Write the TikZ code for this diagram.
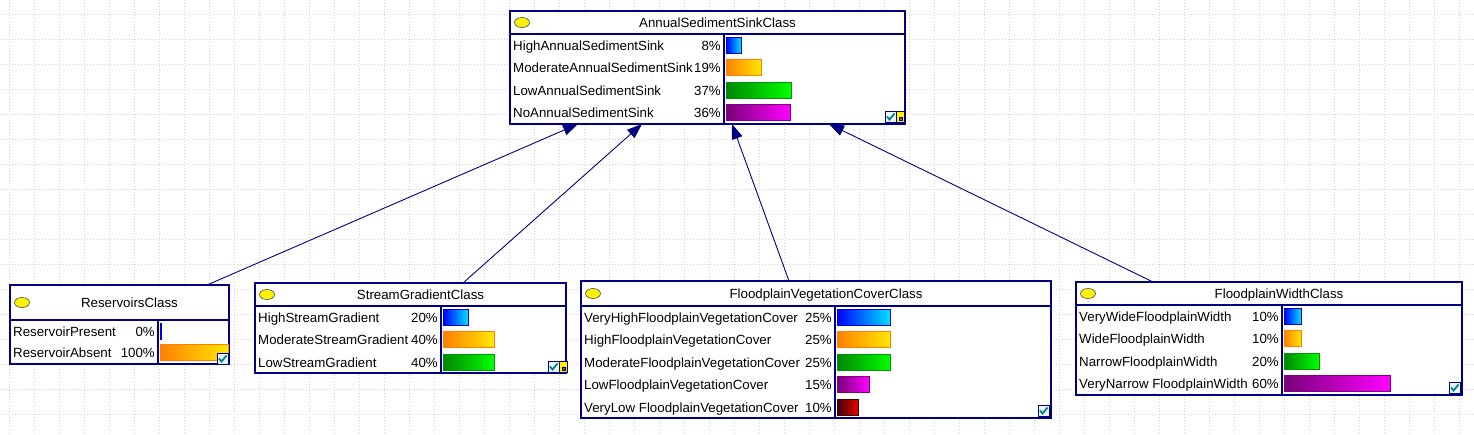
\documentclass[tikz,border=0pt]{standalone}
\usepackage{fontspec}
\setmainfont{Liberation Sans}
\usetikzlibrary{arrows.meta}

\definecolor{netnavy}{RGB}{0,0,128}
\definecolor{gridgray}{RGB}{212,212,212}
\definecolor{chkteal}{RGB}{0,128,128}

\tikzset{
  netbox/.style={rectangle, draw=netnavy, line width=1.2pt, fill=white, inner sep=0pt, outer sep=0pt},
  netline/.style={draw=netnavy, line width=1.1pt},
  netball/.style={fill=yellow, draw=black!70, line width=0.6pt},
  title/.style={anchor=base, inner sep=0pt, font=\fontsize{13.3}{15}\selectfont},
  state/.style={anchor=base west, inner sep=0pt, font=\fontsize{13.3}{15}\selectfont},
  pct/.style={anchor=base east, inner sep=0pt, font=\fontsize{13.3}{15}\selectfont},
  barblue/.style={left color={rgb,255:red,0;green,0;blue,255}, right color={rgb,255:red,0;green,225;blue,255}, draw={rgb,255:red,0;green,0;blue,210}, line width=0.8pt},
  barorange/.style={left color={rgb,255:red,255;green,128;blue,0}, right color={rgb,255:red,255;green,232;blue,0}, draw={rgb,255:red,255;green,128;blue,0}, line width=0.8pt},
  bargreen/.style={left color={rgb,255:red,0;green,135;blue,0}, right color={rgb,255:red,0;green,255;blue,0}, draw={rgb,255:red,0;green,150;blue,0}, line width=0.8pt},
  barpurple/.style={left color={rgb,255:red,120;green,0;blue,120}, right color={rgb,255:red,255;green,0;blue,255}, draw={rgb,255:red,128;green,0;blue,128}, line width=0.8pt},
  barred/.style={left color={rgb,255:red,60;green,0;blue,0}, right color={rgb,255:red,235;green,0;blue,0}, draw={rgb,255:red,70;green,0;blue,0}, line width=0.8pt},
  chkbox/.style={draw=netnavy, line width=1pt, fill={rgb,255:red,235;green,245;blue,255}},
  chkmark/.style={draw=chkteal, line width=1.8pt},
  link/.style={draw=netnavy, line width=0.9pt, -{Triangle[length=15pt,width=11pt]}},
  gridline/.style={draw=gridgray, line width=0.9pt, dash pattern=on 1pt off 2pt}
}

% box with title bar and column divider
% #1 name, #2 left, #3 top, #4 right, #5 bottom, #6 title rule, #7 divider, #8 title
\newcommand{\netnode}[8]{%
  \node[netbox, anchor=north west, minimum width={#4-#2}, minimum height={#5-#3}] (#1) at (#2,#3) {};
  \draw[netline] (#2,#6) -- (#4,#6);
  \draw[netline] (#7,#6) -- (#7,#5);
  \draw[netball] (#2+12,{(#3+#6)/2}) ellipse [x radius=7.5, y radius=5];
  \node[title] (#1-title) at ({(#2+20+#4)/2},{(#3+#6)/2+5}) {#8};
}

% state rows: #1 name, #2 left, #3 title rule, #4 divider, #5 row height, #6 list
\newcommand{\netrows}[6]{%
  \foreach \lab/\pc/\w/\bar [count=\i] in {#6} {
    \pgfmathsetmacro\yy{#3+11+(\i-1)*#5}
    \node[state] (#1-s\i) at (#2+3,\yy+5) {\lab};
    \node[pct] (#1-p\i) at (#4-3,\yy+5) {\pc\%};
    \draw[\bar] (#4+2,\yy-8) rectangle ++(\w,16);
  }
}

% check box, #1 x, #2 y (upper left)
\newcommand{\netcheck}[2]{%
  \draw[chkbox] (#1,#2) rectangle ++(11,11);
  \draw[chkmark] (#1+2,#2+5.5) -- (#1+4.5,#2+8.5) -- (#1+9.5,#2+2.5);
}
\newcommand{\netflag}[2]{%
  \draw[fill=yellow, draw=netnavy, line width=0.8pt] (#1,#2) rectangle ++(8,11);
  \draw[fill=black!60, draw=black] (#1+3,#2+6) rectangle ++(3,3);
}

\begin{document}
\begin{tikzpicture}[x=1pt, y=-1pt]
\useasboundingbox (0,0) rectangle (1474,434);
\fill[white] (0,0) rectangle (1474,434);

% background grid
\foreach \x in {9,34,...,1474} \draw[gridline] (\x,0) -- (\x,434);
\foreach \y in {14,39,...,434} \draw[gridline] (0,\y) -- (1474,\y);

% top node
\netnode{sink}{510}{11}{905}{124}{34}{724}{AnnualSedimentSinkClass}
\netrows{sink}{510}{34}{724}{22.6}{HighAnnualSedimentSink/8/15/barblue,
  ModerateAnnualSedimentSink/19/35/barorange,
  LowAnnualSedimentSink/37/65/bargreen,
  NoAnnualSedimentSink/36/64/barpurple}
\netcheck{885}{111}
\netflag{896}{111}

% parents
\netnode{res}{10}{285}{229}{364}{320}{158}{ReservoirsClass}
\netrows{res}{10}{320}{158}{21}{ReservoirPresent/0/1/barblue,
  ReservoirAbsent/100/68/barorange}
\netcheck{217}{353}

\netnode{stream}{255}{283}{566}{373}{306}{441}{StreamGradientClass}
\netrows{stream}{255}{306}{441}{22.6}{HighStreamGradient/20/25/barblue,
  ModerateStreamGradient/40/51/barorange,
  LowStreamGradient/40/51/bargreen}
\netcheck{548}{361}
\netflag{559}{361}

\netnode{veg}{581}{281}{1051}{418}{306}{835}{FloodplainVegetationCoverClass}
\netrows{veg}{581}{306}{835}{22.6}{VeryHighFloodplainVegetationCover/25/53/barblue,
  HighFloodplainVegetationCover/25/53/barorange,
  ModerateFloodplainVegetationCover/25/53/bargreen,
  LowFloodplainVegetationCover/15/32/barpurple,
  VeryLow FloodplainVegetationCover/10/21/barred}
\netcheck{1038}{405}

\netnode{width}{1076}{282}{1462}{395}{305}{1282}{FloodplainWidthClass}
\netrows{width}{1076}{305}{1282}{22.6}{VeryWideFloodplainWidth/10/17/barblue,
  WideFloodplainWidth/10/17/barorange,
  NarrowFloodplainWidth/20/35/bargreen,
  VeryNarrow FloodplainWidth/60/106/barpurple}
\netcheck{1449}{382}

% links
\draw[link] ([xshift=197pt]res.north west) -- ([xshift=68pt]sink.south west);
\draw[link] ([xshift=208pt]stream.north west) -- ([xshift=132pt]sink.south west);
\draw[link] ([xshift=208pt]veg.north west) -- ([xshift=222pt]sink.south west);
\draw[link] ([xshift=77pt]width.north west) -- ([xshift=319pt]sink.south west);
\end{tikzpicture}
\end{document}
